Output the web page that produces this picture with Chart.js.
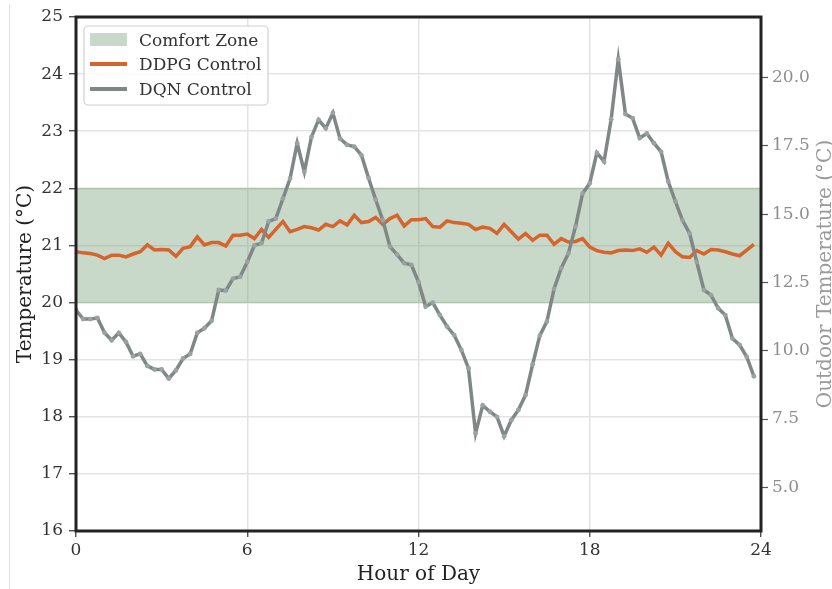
<!DOCTYPE html>
<html>
<head>
<meta charset="utf-8">
<script src="https://cdn.jsdelivr.net/npm/chart.js@4.4.0/dist/chart.umd.min.js"></script>
<style>
  html, body { margin: 0; padding: 0; background: #fff; }
  #wrap { width: 832px; height: 589px; position: relative; }
</style>
</head>
<body>
<div id="wrap"><canvas id="chart" width="832" height="589"></canvas></div>
<script>
// time of day, every 15 min
const hours = [
  0, 0.25, 0.5, 0.75, 1, 1.25, 1.5, 1.75, 2, 2.25, 2.5, 2.75,
  3, 3.25, 3.5, 3.75, 4, 4.25, 4.5, 4.75, 5, 5.25, 5.5, 5.75,
  6, 6.25, 6.5, 6.75, 7, 7.25, 7.5, 7.75, 8, 8.25, 8.5, 8.75,
  9, 9.25, 9.5, 9.75, 10, 10.25, 10.5, 10.75, 11, 11.25, 11.5, 11.75,
  12, 12.25, 12.5, 12.75, 13, 13.25, 13.5, 13.75, 14, 14.25, 14.5, 14.75,
  15, 15.25, 15.5, 15.75, 16, 16.25, 16.5, 16.75, 17, 17.25, 17.5, 17.75,
  18, 18.25, 18.5, 18.75, 19, 19.25, 19.5, 19.75, 20, 20.25, 20.5, 20.75,
  21, 21.25, 21.5, 21.75, 22, 22.25, 22.5, 22.75, 23, 23.25, 23.5, 23.75
];

const ddpgTemp = [
  20.89, 20.87, 20.86, 20.83, 20.77, 20.83, 20.83, 20.80, 20.85, 20.89, 21.01, 20.92,
  20.93, 20.92, 20.81, 20.95, 20.98, 21.15, 21.01, 21.05, 21.05, 20.99, 21.18, 21.18,
  21.20, 21.12, 21.28, 21.14, 21.28, 21.42, 21.24, 21.28, 21.33, 21.31, 21.27, 21.37,
  21.33, 21.43, 21.36, 21.53, 21.40, 21.42, 21.49, 21.37, 21.47, 21.53, 21.34, 21.45,
  21.45, 21.47, 21.33, 21.32, 21.43, 21.40, 21.39, 21.37, 21.28, 21.32, 21.30, 21.21,
  21.37, 21.24, 21.11, 21.21, 21.09, 21.18, 21.18, 21.02, 21.12, 21.06, 21.07, 21.12,
  20.97, 20.91, 20.88, 20.87, 20.91, 20.92, 20.91, 20.94, 20.88, 20.97, 20.83, 21.04,
  20.89, 20.80, 20.79, 20.91, 20.85, 20.93, 20.92, 20.89, 20.85, 20.82, 20.92, 21.02
];

const dqnTemp = [
  19.87, 19.71, 19.71, 19.73, 19.47, 19.34, 19.47, 19.31, 19.06, 19.10, 18.89, 18.83,
  18.83, 18.67, 18.81, 19.02, 19.10, 19.47, 19.55, 19.68, 20.22, 20.21, 20.42, 20.45,
  20.71, 21.00, 21.04, 21.42, 21.47, 21.82, 22.17, 22.79, 22.29, 22.90, 23.20, 23.05,
  23.32, 22.87, 22.76, 22.73, 22.58, 22.18, 21.80, 21.44, 20.98, 20.84, 20.69, 20.66,
  20.36, 19.93, 20.00, 19.78, 19.58, 19.43, 19.17, 18.85, 17.71, 18.20, 18.09, 18.00,
  17.66, 17.94, 18.12, 18.38, 18.92, 19.42, 19.67, 20.24, 20.60, 20.86, 21.33, 21.91,
  22.09, 22.62, 22.47, 23.21, 24.26, 23.30, 23.23, 22.88, 22.96, 22.79, 22.64, 22.12,
  21.77, 21.44, 21.21, 20.71, 20.22, 20.13, 19.90, 19.78, 19.37, 19.26, 19.05, 18.71
];

const comfortMin = 20;
const comfortMax = 22;
const hourTicks = [0, 6, 12, 18, 24];
const outdoorTicks = [5.0, 7.5, 10.0, 12.5, 15.0, 17.5, 20.0];
const outdoorMin = 3.4;
const outdoorMax = 22.22;

const FONT = "'DejaVu Serif', serif";
const ORANGE = '#d5642d';
const GRAY = '#7f8787';
const BAND = 'rgba(120,160,120,0.4)';

function pts(ys) {
  return ys.map((y, i) => ({ x: hours[i], y: y }));
}

const framePlugin = {
  id: 'frame',
  afterDraw(chart) {
    const ctx = chart.ctx;
    const a = chart.chartArea;
    ctx.save();

    // faint line at far left
    ctx.strokeStyle = '#e3e3e3';
    ctx.lineWidth = 1;
    ctx.beginPath();
    ctx.moveTo(9.5, 4);
    ctx.lineTo(9.5, 589);
    ctx.stroke();

    // spines
    ctx.strokeStyle = '#222';
    ctx.lineWidth = 3;
    ctx.strokeRect(a.left, a.top, a.right - a.left, a.bottom - a.top);

    // legend
    const lx = 84, ly = 26, lw = 184, lh = 79;
    ctx.fillStyle = 'rgba(255,255,255,0.85)';
    ctx.strokeStyle = '#d0d0d0';
    ctx.lineWidth = 1.2;
    ctx.beginPath();
    ctx.roundRect(lx, ly, lw, lh, 4);
    ctx.fill();
    ctx.stroke();

    ctx.fillStyle = BAND;
    ctx.fillRect(90, 33, 37, 13);

    ctx.lineWidth = 3.8;
    ctx.strokeStyle = ORANGE;
    ctx.beginPath(); ctx.moveTo(90, 64); ctx.lineTo(127, 64); ctx.stroke();
    ctx.strokeStyle = GRAY;
    ctx.beginPath(); ctx.moveTo(90, 89); ctx.lineTo(127, 89); ctx.stroke();

    ctx.fillStyle = '#333';
    ctx.font = '17px ' + FONT;
    ctx.textAlign = 'left';
    ctx.textBaseline = 'alphabetic';
    ctx.fillText('Comfort Zone', 139, 45.5);
    ctx.fillText('DDPG Control', 139, 70);
    ctx.fillText('DQN Control', 139, 95);

    // axis titles
    ctx.font = '20px ' + FONT;
    ctx.textAlign = 'center';
    ctx.fillStyle = '#222';
    ctx.fillText('Hour of Day', (a.left + a.right) / 2, 580);

    const cy = (a.top + a.bottom) / 2;
    ctx.save();
    ctx.translate(31, cy);
    ctx.rotate(-Math.PI / 2);
    ctx.fillText('Temperature (°C)', 0, 0);
    ctx.restore();

    ctx.save();
    ctx.fillStyle = '#9a9a9a';
    ctx.translate(831, cy);
    ctx.rotate(-Math.PI / 2);
    ctx.fillText('Outdoor Temperature (°C)', 0, 0);
    ctx.restore();

    ctx.restore();
  }
};

new Chart(document.getElementById('chart'), {
  type: 'line',
  data: {
    datasets: [
      {
        label: 'DQN Control',
        data: pts(dqnTemp),
        borderColor: GRAY,
        borderWidth: 3.5,
        pointRadius: 2.4,
        pointBackgroundColor: '#9aa2a2',
        pointBorderWidth: 0,
        tension: 0,
        order: 0
      },
      {
        label: 'DDPG Control',
        data: pts(ddpgTemp),
        borderColor: ORANGE,
        borderWidth: 3.5,
        pointRadius: 0,
        tension: 0,
        order: 1
      },
      {
        label: 'Comfort Zone',
        data: [{ x: 0, y: comfortMax }, { x: 24, y: comfortMax }],
        borderColor: 'rgba(120,160,120,0.3)',
        borderWidth: 1.5,
        backgroundColor: BAND,
        pointRadius: 0,
        fill: '+1',
        order: 2
      },
      {
        label: 'comfort-low',
        data: [{ x: 0, y: comfortMin }, { x: 24, y: comfortMin }],
        borderColor: 'rgba(120,160,120,0.3)',
        borderWidth: 1.5,
        pointRadius: 0,
        fill: false,
        order: 3
      }
    ]
  },
  options: {
    responsive: false,
    animation: false,
    layout: { padding: { top: 17, left: 0, right: 0, bottom: 0 } },
    plugins: {
      legend: { display: false },
      tooltip: { enabled: false }
    },
    scales: {
      x: {
        type: 'linear',
        min: 0,
        max: 24,
        afterBuildTicks: s => { s.ticks = hourTicks.map(v => ({ value: v })); },
        afterFit: s => { s.height = 58; },
        grid: { color: '#e3e3e3', lineWidth: 1.5, tickColor: '#333', tickLength: 6, tickWidth: 1.2 },
        border: { display: false },
        ticks: { color: '#333', padding: 3, font: { family: FONT, size: 17 } }
      },
      y: {
        position: 'left',
        min: 16,
        max: 25,
        ticks: { stepSize: 1, color: '#333', padding: 6, font: { family: FONT, size: 17 } },
        afterFit: s => { s.width = 76; },
        grid: { color: '#e3e3e3', lineWidth: 1.5, tickColor: '#333', tickLength: 7, tickWidth: 1.2 },
        border: { display: false }
      },
      y2: {
        position: 'right',
        min: outdoorMin,
        max: outdoorMax,
        afterBuildTicks: s => { s.ticks = outdoorTicks.map(v => ({ value: v })); },
        afterFit: s => { s.width = 71; },
        ticks: {
          color: '#8e8e8e',
          padding: 4,
          font: { family: FONT, size: 17 },
          callback: v => v.toFixed(1)
        },
        grid: { drawOnChartArea: false, tickColor: '#555', tickLength: 7, tickWidth: 1.2 },
        border: { display: false }
      }
    }
  },
  plugins: [framePlugin]
});
</script>
</body>
</html>
